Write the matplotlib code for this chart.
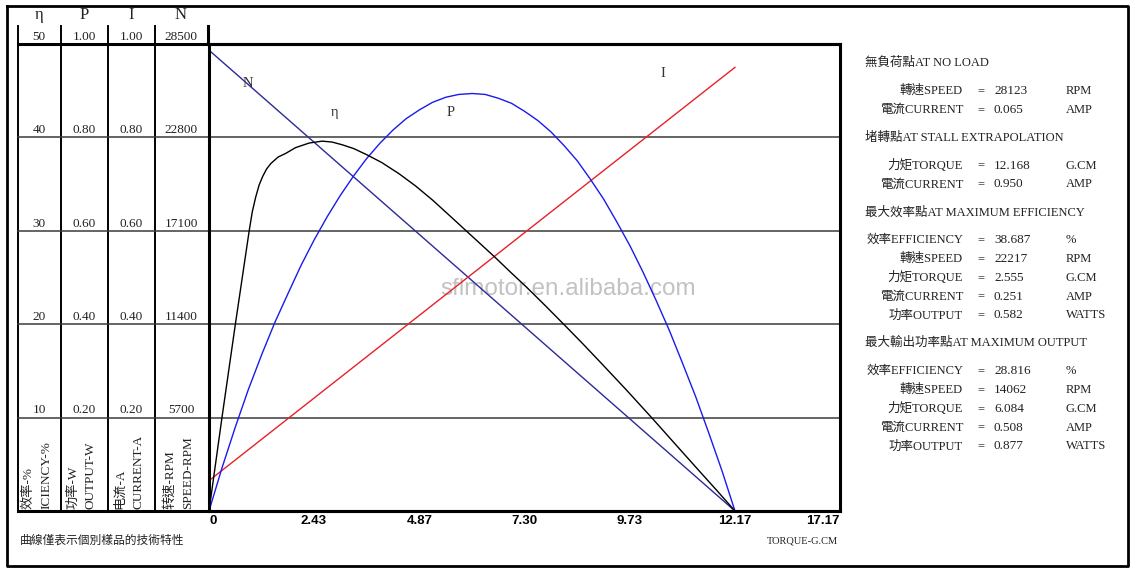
import matplotlib
matplotlib.use('Agg')
import matplotlib.pyplot as plt
import matplotlib.transforms as mtransforms

# ---------------- data ----------------
# torque axis (g.cm)
tick_pos = [0, 2.43, 4.87, 7.30, 9.73, 12.17, 14.60]
tick_labels = ['0', '2.43', '4.87', '7.30', '9.73', '12.17', '17.17']
x_max = 14.60

# speed N (rpm) and current I (A) are straight lines
speed_T = [0, 12.17]
speed_rpm = [28123, 0]
cur_T = [0, 12.17]
cur_A = [0.065, 0.950]

# output power P (W)
out_T = [0, 0.30, 0.61, 0.91, 1.22, 1.52, 1.83, 2.13, 2.43, 2.74, 3.04, 3.35, 3.65,
         3.96, 4.26, 4.56, 4.87, 5.17, 5.48, 5.78, 6.09, 6.39, 6.69, 7.00, 7.30,
         7.61, 7.91, 8.22, 8.52, 8.82, 9.13, 9.43, 9.74, 10.04, 10.34, 10.65,
         10.95, 11.26, 11.56, 11.87, 12.17]
out_W = [0, 0.092, 0.180, 0.260, 0.335, 0.403, 0.466, 0.526, 0.580, 0.631, 0.676,
         0.718, 0.755, 0.788, 0.816, 0.840, 0.859, 0.875, 0.886, 0.892, 0.894,
         0.892, 0.884, 0.873, 0.856, 0.836, 0.812, 0.782, 0.750, 0.711, 0.668,
         0.620, 0.568, 0.512, 0.452, 0.387, 0.318, 0.245, 0.168, 0.086, 0]

# efficiency eta (%)
eff_T = [0, 0.30, 0.61, 0.93, 1.00, 1.08, 1.16, 1.24, 1.33, 1.43, 1.60, 1.78,
         2.00, 2.32, 2.62, 2.85, 3.09, 3.35, 3.67, 4.00, 4.40, 4.78, 5.17, 5.55,
         5.95, 6.28, 6.61, 6.97, 7.34, 7.80, 8.27, 8.65, 9.04, 9.65, 10.28, 10.80,
         11.36, 11.75, 12.17]
eff_pct = [0, 10.0, 20.0, 30.0, 32.0, 33.6, 34.9, 35.8, 36.6, 37.2, 37.9, 38.3,
           38.9, 39.4, 39.6, 39.5, 39.2, 38.8, 38.1, 37.3, 36.1, 34.8, 33.3, 31.7,
           30.0, 28.6, 27.2, 25.6, 24.0, 21.9, 19.7, 17.9, 16.0, 13.0, 9.8, 7.1,
           4.2, 2.2, 0]

# scale table (left)
levels = [10, 20, 30, 40, 50]
eta_labels = ['10', '20', '30', '40', '50']
p_labels = ['0.20', '0.40', '0.60', '0.80', '1.00']
i_labels = ['0.20', '0.40', '0.60', '0.80', '1.00']
n_labels = ['5700', '11400', '17100', '22800', '28500']
eta_full, p_full, i_full, n_full = 50, 1.0, 1.0, 28500

col_heads = ['η', 'P', 'I', 'N']
col_cn = ['效率-%', '功率-W', '电流-A', '转速-RPM']
col_en = ['ICIENCY-%', 'OUTPUT-W', 'CURRENT-A', 'SPEED-RPM']

# right panel
sec_titles = ['無負荷點AT NO LOAD', '堵轉點AT STALL EXTRAPOLATION',
              '最大效率點AT MAXIMUM EFFICIENCY', '最大輸出功率點AT MAXIMUM OUTPUT']
sec_rows = [
    [('轉速SPEED', '28123', 'RPM'), ('電流CURRENT', '0.065', 'AMP')],
    [('力矩TORQUE', '12.168', 'G.CM'), ('電流CURRENT', '0.950', 'AMP')],
    [('效率EFFICIENCY', '38.687', '%'), ('轉速SPEED', '22217', 'RPM'),
     ('力矩TORQUE', '2.555', 'G.CM'), ('電流CURRENT', '0.251', 'AMP'),
     ('功率OUTPUT', '0.582', 'WATTS')],
    [('效率EFFICIENCY', '28.816', '%'), ('轉速SPEED', '14062', 'RPM'),
     ('力矩TORQUE', '6.084', 'G.CM'), ('電流CURRENT', '0.508', 'AMP'),
     ('功率OUTPUT', '0.877', 'WATTS')],
]

# ---------------- figure ----------------
W, H = 1133, 573
FONT = ['Liberation Serif', 'Noto Sans CJK TC', 'DejaVu Sans']
plt.rcParams['font.family'] = FONT
TXT = '#222222'

fig = plt.figure(figsize=(W / 100, H / 100), dpi=100)

# overlay in pixel coordinates
ax0 = fig.add_axes([0, 0, 1, 1])
ax0.set_xlim(0, W)
ax0.set_ylim(H, 0)
ax0.axis('off')

# plot area
L, R, T, B = 209, 840, 44, 511
ax = fig.add_axes([L / W, (H - B) / H, (R - L) / W, (B - T) / H])
ax.set_facecolor('none')
ax.set_xlim(0, x_max)
ax.set_ylim(0, eta_full)
for s in ax.spines.values():
    s.set_linewidth(2.2)

# curves
ax.plot(speed_T, [v / n_full * eta_full for v in speed_rpm], color='#2a2a9a', lw=1.0)
ax.plot(cur_T, [v / i_full * eta_full for v in cur_A], color='#e8202a', lw=1.0)
ax.plot(out_T, [v / p_full * eta_full for v in out_W], color='#1a1aee', lw=1.0)
ax.plot(eff_T, eff_pct, color='black', lw=1.0)

lab_kw = dict(color='#333333', fontsize=10.5, ha='center', va='center')
ax.text(0.90, 45.8, 'N', **lab_kw)
ax.text(2.90, 42.7, 'η', **lab_kw)
ax.text(5.59, 42.7, 'P', **lab_kw)
ax.text(10.5, 46.8, 'I', **lab_kw)

# grid lines continuing through the table
xmin_ext = -(L - 18) / (R - L)
for lv in levels[:-1]:
    ax.axhline(lv, xmin=xmin_ext, xmax=1, color='#3a3a3a', lw=1.1, clip_on=False, zorder=1)
ax.axhline(eta_full, xmin=xmin_ext, xmax=1, color='black', lw=2.2, clip_on=False)
ax.axhline(0, xmin=xmin_ext, xmax=1, color='black', lw=2.2, clip_on=False)

# ticks
ax.set_yticks([])
ax.set_xticks(tick_pos)
ax.set_xticklabels(tick_labels, fontfamily=['Liberation Sans', 'DejaVu Sans'],
                   fontweight='bold', fontsize=9.5)
ax.get_xticklabels()[-1].set_ha('right')
ax.get_xticklabels()[0].set_ha('left')
ax.tick_params(axis='x', length=0, pad=3)

# ---------------- table on the left ----------------
for x in [18, 61, 108, 155]:
    ax0.plot([x, x], [26, 511], color='black', lw=1.4)
ax0.plot([L - 1, L - 1], [26, T], color='black', lw=2.2)

blend = mtransforms.blended_transform_factory(ax0.transData, ax.transData)
col_x = [39, 84, 131, 181]
for cx, labs in zip(col_x, [eta_labels, p_labels, i_labels, n_labels]):
    for lv, lab in zip(levels, labs):
        ax.text(cx, lv + 0.45, lab, transform=blend, ha='center', va='baseline',
                fontsize=9.5, color=TXT, clip_on=False)

for cx, head in zip(col_x, col_heads):
    ax0.text(cx, 15, head, ha='center', va='center', fontsize=12, color=TXT)

for cx, cn, en in zip(col_x, col_cn, col_en):
    ax0.text(cx - 11, 509, cn, rotation=90, ha='center', va='bottom', fontsize=9.5,
             color=TXT)
    ax0.text(cx + 7, 509, en, rotation=90, ha='center', va='bottom', fontsize=9.5,
             color=TXT)

# ---------------- text below ----------------
ax0.text(20, 541, '曲線僅表示個別樣品的技術特性', ha='left', va='center', fontsize=8.5,
         color=TXT)
ax0.text(838, 541, 'TORQUE-G.CM', ha='right', va='center', fontsize=7.5, color=TXT)

# ---------------- right panel ----------------
y = 63
for title, rows in zip(sec_titles, sec_rows):
    ax0.text(865, y, title, ha='left', va='center', fontsize=9, color=TXT)
    y += 28
    for name, val, unit in rows:
        ax0.text(963, y, name, ha='right', va='center', fontsize=9, color=TXT)
        ax0.text(981, y, '=', ha='center', va='center', fontsize=9, color=TXT)
        ax0.text(994, y, val, ha='left', va='center', fontsize=9.5, color=TXT)
        ax0.text(1066, y, unit, ha='left', va='center', fontsize=9, color=TXT)
        y += 18.8
    y += 9

# outer frame
ax0.plot([7, 1128, 1128, 7, 7], [6, 6, 566, 566, 6], color='black', lw=2)

# watermark
ax0.text(568, 289, 'sflmotor.en.alibaba.com', ha='center', va='center', fontsize=17.5,
         fontfamily='Liberation Sans', color='#9a9a9a', alpha=0.6, zorder=10)

fig.savefig('out.png', dpi=100)
